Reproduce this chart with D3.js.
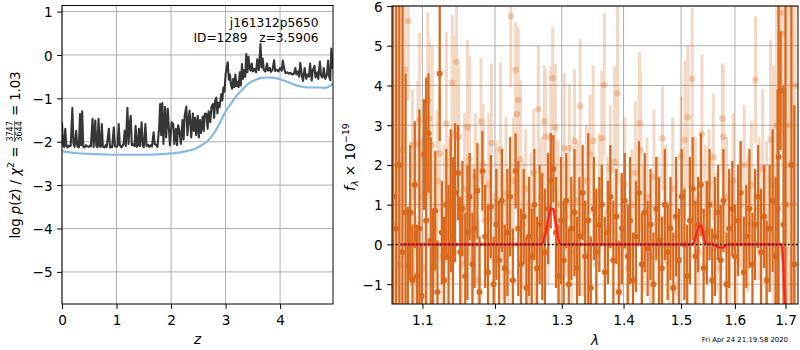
<!DOCTYPE html>
<html><head><meta charset="utf-8">
<script src="https://cdn.jsdelivr.net/npm/d3@7"></script>
<style>body{margin:0;background:#fff}svg{display:block}text{font-family:"DejaVu Sans",sans-serif;fill:#000}</style>
</head><body><svg id="c" width="800" height="350"></svg>
<script>
// ---------- Left panel: log p(z) ----------
const chiZ = [0.00,0.02,0.04,0.06,0.08,0.10,0.12,0.14,0.16,0.19,0.21,0.23,0.26,0.28,0.31,0.33,0.35,0.37,0.39,0.42,0.44,0.46,0.49,0.51,0.53,0.56,0.58,0.61,0.63,0.65,0.67,0.69,0.71,0.73,0.75,0.78,0.80,0.82,0.86,0.88,0.90,0.92,0.95,0.97,1.00,1.02,1.04,1.06,1.09,1.11,1.13,1.15,1.17,1.20,1.22,1.24,1.26,1.28,1.30,1.33,1.35,1.37,1.39,1.41,1.43,1.46,1.48,1.50,1.53,1.55,1.58,1.60,1.63,1.65,1.68,1.70,1.73,1.75,1.78,1.80,1.82,1.84,1.86,1.89,1.91,1.94,1.96,1.98,2.01,2.04,2.06,2.09,2.11,2.13,2.16,2.18,2.21,2.23,2.25,2.28,2.30,2.32,2.34,2.37,2.40,2.42,2.44,2.46,2.49,2.51,2.53,2.55,2.58,2.60,2.62,2.65,2.67,2.69,2.72,2.74,2.77,2.79,2.81,2.83,2.85,2.87,2.89,2.92,2.94,2.96,2.98,3.00,3.02,3.04,3.06,3.08,3.10,3.12,3.14,3.16,3.18,3.20,3.22,3.24,3.26,3.28,3.30,3.32,3.34,3.36,3.38,3.40,3.42,3.44,3.46,3.48,3.50,3.53,3.56,3.58,3.61,3.64,3.66,3.68,3.70,3.73,3.76,3.78,3.81,3.83,3.86,3.89,3.91,3.94,3.97,4.00,4.03,4.05,4.08,4.10,4.13,4.16,4.19,4.22,4.25,4.28,4.30,4.33,4.35,4.37,4.40,4.42,4.45,4.48,4.50,4.53,4.55,4.58,4.60,4.63,4.65,4.68,4.70,4.73,4.75,4.78,4.80,4.83,4.86,4.88,4.90,4.92,4.94,4.96];
const chiLogp = [-1.55,-2.08,-2.12,-1.70,-2.10,-2.13,-2.09,-2.11,-2.09,-1.22,-2.05,-2.12,-1.75,-2.10,-2.13,-1.36,-2.08,-1.30,-2.11,-2.13,-2.08,-2.10,-2.12,-2.09,-2.11,-1.47,-2.12,-1.51,-2.10,-2.13,-1.47,-2.10,-2.12,-1.59,-2.11,-2.13,-2.08,-2.12,-1.70,-2.13,-2.11,-2.13,-1.67,-2.10,-2.12,-2.08,-1.59,-2.08,-2.13,-2.09,-2.05,-1.75,-2.10,-1.22,-2.05,-1.60,-1.40,-2.08,-2.06,-2.10,-1.63,-2.12,-2.09,-1.70,-2.10,-1.55,-2.08,-2.13,-1.59,-2.10,-2.07,-2.12,-2.08,-2.11,-1.78,-2.05,-2.08,-2.12,-1.70,-1.13,-1.85,-1.11,-2.05,-1.20,-1.90,-1.24,-1.70,-2.08,-1.55,-1.59,-2.05,-1.70,-2.08,-1.62,-1.80,-2.05,-1.50,-1.95,-1.40,-1.19,-1.85,-1.50,-1.28,-1.90,-1.35,-1.75,-1.45,-1.85,-1.40,-1.90,-1.50,-1.80,-1.42,-1.75,-1.35,-1.36,-1.70,-1.30,-1.55,-1.20,-1.13,-1.45,-1.05,-0.98,-1.35,-1.10,-1.20,-0.90,-1.05,-0.75,-0.85,-0.45,-0.29,-0.17,-0.57,-0.45,-0.70,-0.78,-0.55,-0.74,-0.45,-0.72,-0.62,-0.74,-0.40,-0.70,-0.21,-0.55,-0.35,-0.50,0.02,-0.40,-0.04,-0.30,-0.36,-0.20,-0.38,-0.32,-0.40,-0.10,-0.35,0.25,-0.29,-0.08,-0.34,-0.38,-0.20,-0.36,-0.30,-0.39,-0.35,-0.12,-0.37,-0.34,-0.38,-0.30,-0.36,-0.13,-0.35,-0.42,-0.40,-0.43,-0.41,-0.45,-0.44,-0.30,-0.45,-0.38,-0.50,-0.18,-0.48,-0.60,-0.30,-0.55,-0.45,-0.50,-0.20,-0.59,-0.35,-0.25,-0.52,-0.40,-0.55,-0.15,-0.48,-0.52,-0.30,-0.55,-0.45,-0.13,-0.50,-0.58,0.15,-0.32];
const pzZ = [0,0.25,0.5,0.75,1.0,1.25,1.5,1.75,2.0,2.15,2.3,2.44,2.56,2.68,2.8,2.9,2.99,3.1,3.23,3.33,3.41,3.52,3.66,3.78,3.9,4.02,4.15,4.27,4.39,4.5,4.64,4.74,4.82,4.88,4.94,4.97];
const pzLogp = [-2.22,-2.26,-2.28,-2.29,-2.30,-2.30,-2.30,-2.29,-2.27,-2.25,-2.21,-2.16,-2.08,-1.97,-1.78,-1.55,-1.32,-1.12,-0.90,-0.77,-0.67,-0.59,-0.53,-0.52,-0.53,-0.57,-0.63,-0.69,-0.73,-0.75,-0.75,-0.75,-0.76,-0.74,-0.69,-0.65];
const leftXTicks = [0,1,2,3,4];
const leftYTicks = [1,0,-1,-2,-3,-4,-5];
const fieldName = "j161312p5650";
const idLine = "ID=1289   z=3.5906";

// ---------- Right panel: spectrum ----------
const sLam = [1.062,1.066,1.070,1.074,1.078,1.081,1.084,1.087,1.090,1.093,1.096,1.099,1.102,1.105,1.108,1.111,1.114,1.117,1.120,1.123,1.126,1.129,1.132,1.135,1.138,1.141,1.144,1.148,1.151,1.154,1.158,1.161,1.164,1.168,1.171,1.175,1.178,1.182,1.186,1.190,1.194,1.198,1.202,1.206,1.210,1.214,1.218,1.222,1.226,1.230,1.234,1.238,1.242,1.246,1.250,1.254,1.258,1.262,1.266,1.270,1.274,1.279,1.283,1.287,1.291,1.295,1.299,1.303,1.307,1.311,1.315,1.320,1.324,1.328,1.333,1.337,1.342,1.346,1.351,1.355,1.360,1.364,1.369,1.374,1.378,1.383,1.388,1.392,1.397,1.402,1.407,1.411,1.416,1.421,1.426,1.431,1.436,1.441,1.446,1.451,1.456,1.461,1.466,1.471,1.476,1.481,1.486,1.491,1.496,1.501,1.506,1.511,1.516,1.521,1.526,1.531,1.536,1.541,1.547,1.552,1.557,1.562,1.568,1.573,1.578,1.584,1.589,1.595,1.600,1.606,1.611,1.617,1.622,1.628,1.634,1.639,1.645,1.651,1.657,1.662,1.668,1.674,1.680,1.684,1.686,1.690,1.696,1.700,1.712,1.718];
const sFlux = [1.2,0.4,2.0,-0.2,0.8,-0.55,0.8,-0.9,1.5,-0.8,0.4,-1.3,2.26,0.6,2.8,0.1,-0.6,0.85,-1.2,4.3,0.3,-0.9,1.0,-0.3,1.1,0.2,1.3,1.8,-0.2,0.9,-0.8,0.3,1.2,-0.5,0.4,1.35,-1.2,1.85,0.2,-0.7,0.95,-1.0,0.5,-0.4,1.1,-0.6,0.3,1.2,-0.9,1.85,0.4,-0.5,0.7,-1.1,0.2,-0.3,1.0,-0.6,0.5,0.2,-0.2,0.9,1.6,1.9,0.3,-0.8,0.6,-0.4,1.1,-1.0,0.4,0.8,-0.6,0.2,1.3,-0.3,0.6,-1.1,0.9,-0.2,0.5,1.0,-0.7,0.3,1.2,-0.4,0.7,-1.2,0.4,1.1,-0.3,0.6,-0.9,0.2,1.3,-0.5,0.8,-0.1,0.5,-1.0,0.9,0.1,-0.6,1.0,-0.2,0.4,-1.1,0.7,-0.4,1.2,0.0,-0.8,0.6,1.4,-0.3,0.5,1.5,-0.6,0.3,1.0,-0.9,0.2,0.8,-0.4,1.1,-1.0,0.4,0.9,-0.3,0.6,1.3,-0.7,0.2,0.9,-0.5,0.5,1.2,-0.2,0.7,-0.9,0.4,1.1,-0.3,0.9,2.2,3.87,0.5,1.0,2.0,-0.5];
const sErr = [9,9,9,9,3.5,1.5,1.7,1.4,1.6,1.3,3.0,1.3,1.4,3.6,1.5,2.6,1.5,1.5,1.3,1.7,1.3,1.6,1.4,1.8,1.8,2.0,1.75,1.2,1.4,1.2,1.6,1.7,1.1,1.3,1.5,1.2,1.4,1.0,1.3,1.7,1.3,1.2,1.4,1.5,1.3,1.1,1.6,1.5,1.3,0.95,1.7,1.4,1.2,1.3,1.5,1.2,1.4,1.3,1.5,1.6,1.6,1.4,1.2,0.85,1.4,1.3,1.6,1.5,1.2,1.4,1.3,1.6,1.3,1.5,1.2,1.4,2.2,1.3,1.3,1.6,1.2,1.0,1.4,1.3,1.3,1.5,1.2,1.3,1.4,1.2,1.3,1.6,1.2,1.4,1.3,1.3,1.5,1.2,1.4,1.3,1.3,1.6,1.3,1.4,1.2,1.3,1.4,1.5,1.3,1.2,1.4,1.3,1.6,1.3,1.4,1.2,1.3,1.5,1.3,1.4,1.3,1.5,1.2,1.4,1.3,1.3,1.5,1.2,1.3,1.4,1.3,1.4,1.3,1.5,1.3,1.4,1.3,1.6,1.3,1.5,1.6,1.8,2.0,3.0,4.5,1.5,3.5,9,9,4];
const fLam = [1.063,1.067,1.071,1.074,1.077,1.0815,1.085,1.087,1.091,1.094,1.096,1.099,1.102,1.107,1.109,1.113,1.116,1.120,1.123,1.126,1.129,1.132,1.136,1.140,1.143,1.146,1.149,1.153,1.157,1.161,1.164,1.168,1.172,1.176,1.180,1.183,1.187,1.191,1.195,1.199,1.203,1.208,1.212,1.216,1.219,1.223,1.227,1.230,1.232,1.234,1.237,1.241,1.245,1.249,1.253,1.257,1.260,1.264,1.268,1.273,1.275,1.279,1.283,1.286,1.290,1.294,1.298,1.304,1.308,1.312,1.316,1.320,1.325,1.329,1.334,1.339,1.345,1.350,1.355,1.360,1.364,1.368,1.373,1.378,1.385,1.390,1.396,1.402,1.408,1.414,1.420,1.427,1.429,1.434,1.440,1.446,1.452,1.459,1.467,1.473,1.479,1.485,1.492,1.500,1.507,1.512,1.520,1.526,1.532,1.538,1.544,1.551,1.559,1.565,1.571,1.576,1.578,1.584,1.590,1.597,1.604,1.611,1.618,1.625,1.632,1.640,1.647,1.654,1.662,1.670,1.676,1.682,1.690,1.694,1.700,1.706,1.714,1.720];
const fFlux = [0.5,2.0,-0.5,2.38,4.4,5.62,0.8,2.5,-0.8,2.52,3.12,1.2,-0.6,3.63,3.17,2.5,0.4,1.6,2.29,-0.3,1.0,3.04,0.9,4.07,2.75,4.59,2.71,-0.5,1.4,2.95,2.14,0.3,1.7,-0.9,3.09,2.03,0.6,1.5,2.55,-0.4,1.1,2.38,0.2,1.3,-0.7,5.75,1.6,4.39,3.28,3.63,2.14,0.5,1.4,-0.6,0.9,1.8,0.1,3.4,1.2,3.1,2.71,0.5,2.69,4.18,2.94,1.0,-0.8,2.42,0.7,2.42,-0.2,2.6,1.1,3.48,0.3,1.6,2.27,2.6,-0.5,1.3,2.67,4.01,0.8,1.9,2.08,3.8,0.2,1.5,-0.6,1.0,1.8,3.05,2.37,0.4,1.2,-0.3,1.7,0.6,2.67,1.0,-0.5,1.4,0.2,2.22,2.63,3.2,4.16,1.1,-0.2,2.78,0.8,1.5,2.19,0.3,-0.6,3.16,2.71,1.2,0.0,1.6,-0.4,1.0,2.0,0.5,1.5,4.14,0.9,1.9,0.4,2.64,1.5,3.0,5.82,5.3,2.0,3.0,1.0,4.0];
const fErr = [3.5,3.0,2.5,2.0,2.0,2.0,1.8,1.4,1.5,1.6,2.2,1.5,1.2,2.2,2.0,2.5,1.5,1.8,1.6,1.5,1.5,2.3,1.8,1.7,2.5,2.0,1.8,1.6,1.9,2.2,2.6,1.7,1.6,1.5,1.6,1.5,1.4,1.8,2.0,1.7,1.5,2.2,1.6,1.9,1.5,1.8,1.6,1.2,2.2,1.8,2.0,1.6,1.5,1.7,1.4,1.6,1.8,1.6,1.5,1.4,1.7,1.5,1.8,1.3,1.6,1.6,1.4,1.9,1.5,1.6,1.7,1.8,1.5,1.7,1.6,1.4,1.5,1.9,1.6,1.5,1.7,1.8,1.4,1.6,2.4,2.3,1.5,1.7,1.6,1.4,1.8,1.8,2.0,1.6,1.5,1.4,1.7,1.6,1.3,1.5,1.6,1.8,1.5,1.5,2.0,1.8,1.8,1.6,1.5,2.0,1.7,1.4,1.6,1.5,1.6,1.4,1.8,1.5,1.6,1.7,1.5,1.6,1.5,1.7,1.6,1.6,1.8,2.0,2.2,2.5,3.0,3.5,2.0,2.5,4.0,5,6,6];
const modelLam = [1.073,1.268,1.272,1.276,1.280,1.284,1.287,1.290,1.293,1.296,1.299,1.521,1.525,1.529,1.533,1.536,1.539,1.542,1.546,1.558,1.563,1.569,1.575,1.580,1.585,1.592,1.692,1.695,1.698,1.700];
const modelFlux = [0,0,0.10,0.35,0.70,0.90,0.88,0.62,0.28,0.06,0,0,0.12,0.33,0.47,0.48,0.36,0.15,0.02,0,-0.03,-0.07,-0.08,-0.05,-0.01,0,0,-0.4,-1.2,-1.6];
const rightXTicks = [1.1,1.2,1.3,1.4,1.5,1.6,1.7];
const rightYTicks = [-1,0,1,2,3,4,5,6];
const timestamp = "Fri Apr 24 21:19:58 2020";

const ORANGE = "#d96a1d";
const svg = d3.select("#c");
const FS = 13.6;

function panel(x0,x1,y0,y1,xs,ys,xt,yt,id){
  svg.append("defs").append("clipPath").attr("id",id).append("rect").attr("x",x0).attr("y",y0).attr("width",x1-x0).attr("height",y1-y0);
  const grid = svg.append("g");
  xt.forEach(v=>grid.append("line").attr("x1",xs(v)).attr("x2",xs(v)).attr("y1",y0).attr("y2",y1).attr("stroke","#b0b0b0").attr("stroke-width",1));
  yt.forEach(v=>grid.append("line").attr("x1",x0).attr("x2",x1).attr("y1",ys(v)).attr("y2",ys(v)).attr("stroke","#b0b0b0").attr("stroke-width",1));
  return svg.append("g").attr("clip-path",`url(#${id})`);
}
function axes(x0,x1,y0,y1,xs,ys,xt,yt,xfmt){
  const ax = svg.append("g").attr("transform",`translate(0,${y1})`)
    .call(d3.axisBottom(xs).tickValues(xt).tickFormat(xfmt).tickSize(4.9).tickPadding(6.4).tickSizeOuter(0));
  const ay = svg.append("g").attr("transform",`translate(${x0},0)`)
    .call(d3.axisLeft(ys).tickValues(yt).tickFormat(d3.format("d")).tickSize(4.9).tickPadding(4.5).tickSizeOuter(0));
  ay.selectAll("text").attr("dy","0.37em");
  [ax,ay].forEach(a=>{a.select(".domain").remove();a.selectAll("text").attr("font-size",FS).attr("font-family","DejaVu Sans");a.selectAll("line").attr("stroke","#000").attr("stroke-width",1);});
  svg.append("rect").attr("x",x0).attr("y",y0).attr("width",x1-x0).attr("height",y1-y0).attr("fill","none").attr("stroke","#000").attr("stroke-width",1);
}

// ----- left
const xL = d3.scaleLinear().domain([0,4.97]).range([62,333]);
const yL = d3.scaleLinear().domain([-5.74,1.14]).range([304,5.5]);
const gL = panel(62,333,5.5,304,xL,yL,leftXTicks,leftYTicks,"clipL");
const pzPts = pzZ.map((z,i)=>[z,pzLogp[i]]);
gL.append("path").attr("d",d3.line().x(d=>xL(d[0])).y(d=>yL(d[1])).curve(d3.curveMonotoneX)(pzPts))
  .attr("fill","none").attr("stroke","#86b9df").attr("stroke-width",2.2);
const chiPts = chiZ.map((z,i)=>[z,chiLogp[i]]);
gL.append("path").attr("d",d3.line().x(d=>xL(d[0])).y(d=>yL(d[1]))(chiPts))
  .attr("fill","none").attr("stroke","#363636").attr("stroke-width",2.1).attr("stroke-linejoin","round");
axes(62,333,5.5,304,xL,yL,leftXTicks,leftYTicks,d3.format("d"));
svg.append("text").attr("x",318.5).attr("y",27).attr("text-anchor","end").attr("font-size",12.2).text(fieldName);
svg.append("text").attr("x",318.5).attr("y",42).attr("text-anchor","end").attr("font-size",12.2).style("white-space","pre").text(idLine);
svg.append("text").attr("x",197.5).attr("y",344).attr("text-anchor","middle").attr("font-size",FS).attr("font-style","italic").text("z");

// left y label with fraction
(function(){
  const LF = 13.2;
  const outer = svg.append("g").attr("transform","translate(19.5,155) rotate(-90)");
  const g = outer.append("g");
  const t1 = g.append("text").attr("font-size",LF).style("white-space","pre");
  t1.append("tspan").text("log ");
  t1.append("tspan").attr("font-style","italic").text("p");
  t1.append("tspan").text("(");
  t1.append("tspan").attr("font-style","italic").text("z");
  t1.append("tspan").text(") / ");
  t1.append("tspan").attr("font-style","italic").text("χ");
  t1.append("tspan").attr("font-size",9.3).attr("dy",-6).text("2");
  t1.append("tspan").attr("dy",6).text(" = ");
  const w1 = t1.node().getComputedTextLength();
  const num = g.append("text").attr("font-size",8).attr("y",-6.6).attr("text-anchor","middle").text("3747");
  const den = g.append("text").attr("font-size",8).attr("y",2.6).attr("text-anchor","middle").text("3644");
  const fw = Math.max(num.node().getComputedTextLength(),den.node().getComputedTextLength());
  const cx = w1 + 1 + fw/2;
  num.attr("x",cx); den.attr("x",cx);
  g.append("line").attr("x1",w1+0.5).attr("x2",w1+fw+1.5).attr("y1",-4.9).attr("y2",-4.9).attr("stroke","#000").attr("stroke-width",0.6);
  const t3 = g.append("text").attr("font-size",LF).attr("x",w1+fw+2).style("white-space","pre").text(" = 1.03");
  const total = w1+fw+2+t3.node().getComputedTextLength();
  g.attr("transform",`translate(${-total/2},0)`);
})();

// ----- right
const xR = d3.scaleLog().domain([1.0606,1.7257]).range([392,798]);
const yR = d3.scaleLinear().domain([-1.5,6]).range([304,6]);
const gR = panel(392,798,6,304,xR,yR,rightXTicks,rightYTicks,"clipR");
const faint = fLam.map((l,i)=>({l,f:fFlux[i],e:fErr[i]}));
const strong = sLam.map((l,i)=>({l,f:sFlux[i],e:sErr[i]}));
const fg = gR.append("g").attr("opacity",0.26);
fg.selectAll("line").data(faint).join("line")
  .attr("x1",d=>xR(d.l)).attr("x2",d=>xR(d.l)).attr("y1",d=>yR(d.f-d.e)).attr("y2",d=>yR(d.f+d.e))
  .attr("stroke",ORANGE).attr("stroke-width",3);
gR.append("g").selectAll("circle").data(faint).join("circle")
  .attr("cx",d=>xR(d.l)).attr("cy",d=>yR(d.f)).attr("r",3.3).attr("fill",ORANGE).attr("opacity",0.3);
gR.append("g").selectAll("line").data(strong).join("line")
  .attr("x1",d=>xR(d.l)).attr("x2",d=>xR(d.l)).attr("y1",d=>yR(d.f-d.e)).attr("y2",d=>yR(d.f+d.e))
  .attr("stroke",ORANGE).attr("stroke-width",2.3);
gR.append("g").selectAll("circle").data(strong).join("circle")
  .attr("cx",d=>xR(d.l)).attr("cy",d=>yR(d.f)).attr("r",3).attr("fill",ORANGE);
const mPts = modelLam.map((l,i)=>[l,modelFlux[i]]);
gR.append("path").attr("d",d3.line().x(d=>xR(d[0])).y(d=>yR(d[1])).curve(d3.curveMonotoneX)(mPts))
  .attr("fill","none").attr("stroke","#ff5a4a").attr("stroke-width",4).attr("opacity",0.55);
gR.append("path").attr("d",d3.line().x(d=>xR(d[0])).y(d=>yR(d[1])).curve(d3.curveMonotoneX)(mPts))
  .attr("fill","none").attr("stroke","#f0281a").attr("stroke-width",2.2);
gR.append("line").attr("x1",392).attr("x2",798).attr("y1",yR(0)).attr("y2",yR(0))
  .attr("stroke","#000").attr("stroke-width",1.5).attr("stroke-dasharray","1.5,2.5");
axes(392,798,6,304,xR,yR,rightXTicks,rightYTicks,d3.format(".1f"));
svg.append("text").attr("x",595).attr("y",345).attr("text-anchor","middle").attr("font-size",FS).attr("font-style","italic").text("λ");
(function(){
  const t = svg.append("text").attr("transform","translate(354.5,157) rotate(-90)").attr("text-anchor","middle").attr("font-size",FS).style("white-space","pre");
  t.append("tspan").attr("font-style","italic").text("f");
  t.append("tspan").attr("font-style","italic").attr("font-size",9.5).attr("dy",3).text("λ");
  t.append("tspan").attr("dy",-3).text(" × 10");
  t.append("tspan").attr("font-size",9.5).attr("dy",-6).text("−19");
})();
svg.append("text").attr("x",788).attr("y",342).attr("text-anchor","end").attr("font-size",6.9).text(timestamp);
</script></body></html>
